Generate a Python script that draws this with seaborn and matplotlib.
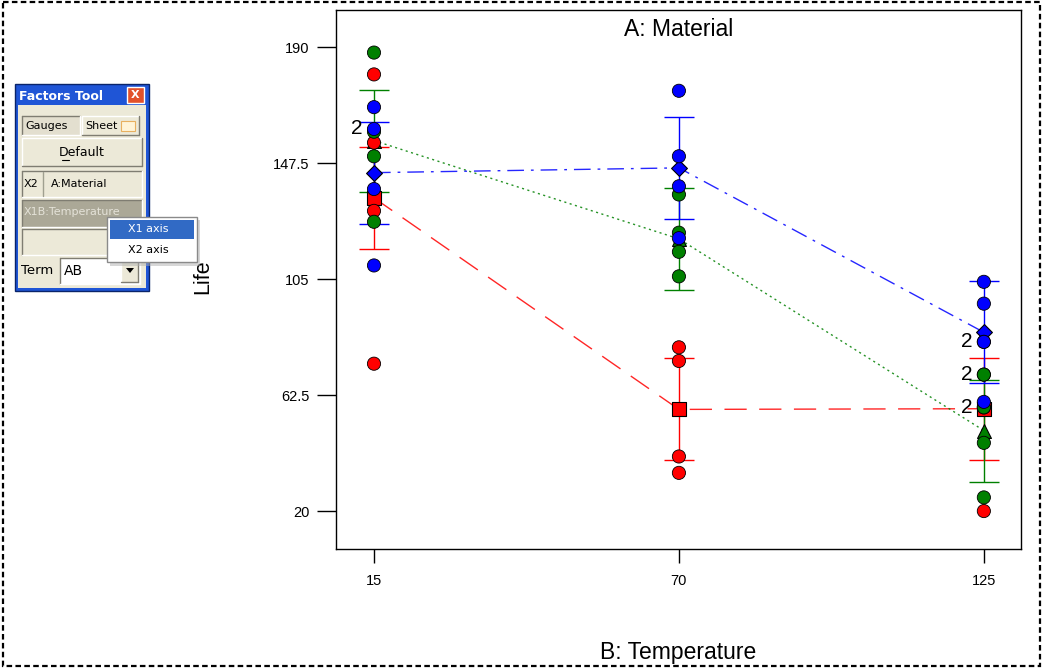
import numpy as np
import pandas as pd
import matplotlib
matplotlib.use("Agg")
import matplotlib.pyplot as plt
from matplotlib.patches import Rectangle, Polygon
import seaborn as sns

# battery life data (observed), by material and temperature
temps = [15, 70, 125]
materials = [1, 2, 3]
life_m1 = [[130, 155, 74, 180], [34, 40, 80, 75], [20, 70, 82, 58]]
life_m2 = [[150, 188, 159, 126], [136, 122, 106, 115], [25, 70, 58, 45]]
life_m3 = [[138, 110, 168, 160], [174, 120, 150, 139], [96, 104, 82, 60]]
lsd_half = [18.7, 18.7, 18.7]  # half width of the LSD bars, per material
overlap_pts = [(15, 160), (125, 82), (125, 70), (125, 58)]  # points shown with "2"

y_ticks = [20, 62.5, 105, 147.5, 190]
y_ticklabels = ["20", "62.5", "105", "147.5", "190"]

colors = {1: "#FF0000", 2: "#008000", 3: "#0000FF"}
mean_markers = {1: "s", 2: "^", 3: "D"}
mean_sizes = {1: 95, 2: 100, 3: 65}
dash_styles = {1: (16, 9), 2: (1.5, 2.5), 3: (12, 5, 2, 5)}

rows = []
for m, arr in zip(materials, [life_m1, life_m2, life_m3]):
    for t, vals in zip(temps, arr):
        for v in vals:
            rows.append({"material": m, "temp": t, "life": v})
df = pd.DataFrame(rows)
means = df.groupby(["material", "temp"], as_index=False)["life"].mean()

sns.set_style("white")
plt.rcParams["font.family"] = ["Liberation Sans", "DejaVu Sans"]
for k in ["text.color", "axes.labelcolor", "xtick.color", "ytick.color"]:
    plt.rcParams[k] = "black"

fig = plt.figure(figsize=(10.44, 6.69), dpi=100)
ax = fig.add_axes([336 / 1044, 1 - 549 / 669, (1021 - 336) / 1044, (549 - 10) / 669])

# interaction lines through the means
for m in materials:
    sub = means[means.material == m]
    ax.plot(sub.temp, sub.life, color=colors[m], lw=1.0,
            dashes=dash_styles[m], alpha=0.85, zorder=2)
    ax.errorbar(sub.temp, sub.life, yerr=lsd_half[m - 1], fmt="none",
                ecolor=colors[m], elinewidth=1.0, capsize=10.5, capthick=1.0, zorder=2)
    ax.scatter(sub.temp, sub.life, marker=mean_markers[m], s=mean_sizes[m],
               color=colors[m], edgecolor="black", linewidth=0.8, zorder=3)

sns.scatterplot(data=df, x="temp", y="life", hue="material", palette=colors,
                s=90, edgecolor="black", linewidth=0.6, legend=False, ax=ax, zorder=4)

for x, y in overlap_pts:
    ax.annotate("2", (x, y), xytext=(-8, 0), textcoords="offset points",
                ha="right", va="center", fontsize=15, zorder=5)

ax.set_xlim(8.15, 131.7)
ax.set_ylim(6.1, 203.6)
ax.set_xticks(temps)
ax.set_xticklabels([str(t) for t in temps], fontsize=10.5)
ax.set_yticks(y_ticks)
ax.set_yticklabels(y_ticklabels, fontsize=10.5)
ax.tick_params(axis="y", length=14, width=1, pad=5, direction="out", left=True, colors="black")
ax.tick_params(axis="x", length=10, width=1, pad=8, direction="out", bottom=True, colors="black")
for s in ax.spines.values():
    s.set_color("black")
    s.set_linewidth(1.0)
ax.set_xlabel("")
ax.set_ylabel("")
ax.text(0.5, 0.985, "A: Material", transform=ax.transAxes, ha="center", va="top", fontsize=16.5)
fig.text(678 / 1044, 1 - 653 / 669, "B: Temperature", ha="center", va="center", fontsize=16.5)
fig.text(203 / 1044, 1 - 277 / 669, "Life", ha="center", va="center", rotation=90, fontsize=15.5)

# overlay in pixel coordinates for the border and the Factors Tool panel
ov = fig.add_axes([0, 0, 1, 1], zorder=10)
ov.set_xlim(0, 1044)
ov.set_ylim(669, 0)
ov.axis("off")

ov.add_patch(Rectangle((3, 2), 1037, 664, fill=False, ec="black", lw=1.6, ls=(0, (2.5, 1.5))))

wf = {"family": "DejaVu Sans", "fontsize": 8}
beige = "#ECE9D8"
ov.add_patch(Rectangle((15, 84), 134, 207, fc="#1F55D6", ec="#0A246A", lw=1))
ov.add_patch(Rectangle((18, 105), 128, 183, fc=beige, ec="none"))
ov.text(19, 96, "Factors Tool", color="white", fontweight="bold", va="center",
        family="DejaVu Sans", fontsize=9)
ov.add_patch(Rectangle((127, 87), 17, 16, fc="#E2512B", ec="white", lw=1))
ov.text(135.5, 95.5, "X", color="white", fontweight="bold", ha="center", va="center",
        family="DejaVu Sans", fontsize=8)


def box(x, y, w, h, fc=beige, sunken=True):
    dark, light = ("#7F7D72", "white") if sunken else ("white", "#7F7D72")
    ov.add_patch(Rectangle((x, y), w, h, fc=fc, ec="none"))
    ov.plot([x, x + w], [y, y], color=dark, lw=1)
    ov.plot([x, x], [y, y + h], color=dark, lw=1)
    ov.plot([x, x + w], [y + h, y + h], color=light, lw=1)
    ov.plot([x + w, x + w], [y, y + h], color=light, lw=1)


box(22, 116, 58, 19, fc="#E3DFCF", sunken=True)
ov.text(25, 126, "Gauges", va="center", **wf)
box(82, 116, 57, 19, sunken=False)
ov.text(85, 126, "Sheet", va="center", **wf)
ov.add_patch(Rectangle((121, 121), 14, 10, fc="#FFF4D8", ec="#E8B060", lw=0.8))
box(22, 138, 120, 28, sunken=False)
ov.text(82, 152, "Default", ha="center", va="center", family="DejaVu Sans", fontsize=9)
ov.plot([62, 69], [160, 160], color="black", lw=0.8)
box(22, 171, 120, 26)
ov.plot([43, 43], [172, 196], color="#A0A090", lw=1)
ov.text(24, 184, "X2", va="center", **wf)
ov.text(51, 184, "A:Material", va="center", **wf)
box(22, 200, 120, 27, fc="#ABA897")
ov.text(24, 212, "X1B:Temperature", va="center", color="#E4E2D8", **wf)
box(22, 229, 120, 26)
ov.text(21, 271, "Term", va="center", family="DejaVu Sans", fontsize=9.5)
box(60, 258, 80, 26, fc="white")
ov.text(64, 271, "AB", va="center", family="DejaVu Sans", fontsize=10)
box(121, 260, 17, 22, sunken=False)
ov.add_patch(Polygon([[126, 268], [134, 268], [130, 273]], closed=True, fc="black", ec="none"))

# popup menu, drawn above the panel lines
ov.add_patch(Rectangle((110, 220), 90, 46, fc="#B0B0B0", ec="none", alpha=0.5, zorder=5))
ov.add_patch(Rectangle((107, 217), 90, 45, fc="white", ec="#8A8A8A", lw=1, zorder=5))
ov.add_patch(Rectangle((110, 220), 84, 19, fc="#316AC5", ec="none", zorder=6))
ov.text(148, 229.5, "X1 axis", ha="center", va="center", color="white", zorder=7, **wf)
ov.text(148, 250, "X2 axis", ha="center", va="center", color="black", zorder=7, **wf)

fig.savefig("out.png", dpi=100, facecolor="white")
